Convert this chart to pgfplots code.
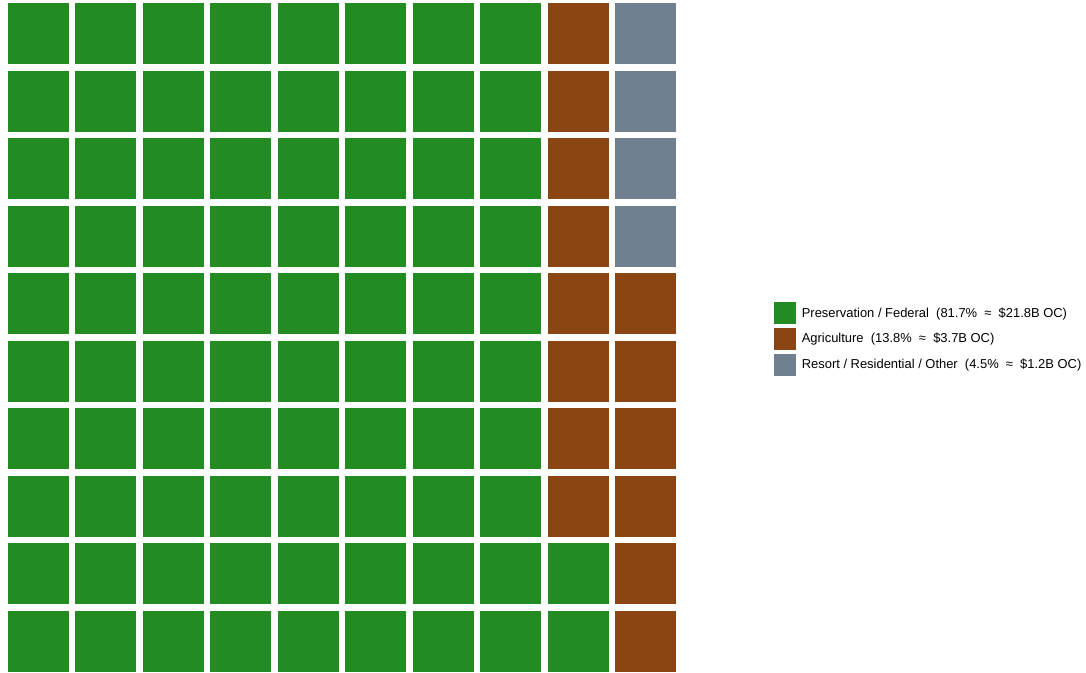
\documentclass[border=0pt]{standalone}
\usepackage{pgfplots}
\pgfplotsset{compat=1.18}
\usepackage{fontspec}
\setmainfont{Liberation Sans}
\definecolor{cgreen}{HTML}{228B22}
\definecolor{cbrown}{HTML}{8B4513}
\definecolor{cgray}{HTML}{708090}
\begin{document}
\begin{tikzpicture}
\begin{axis}[
  at={(3.19pt,-1.69pt)}, anchor=south west,
  scale only axis, width=506.25pt, height=506.25pt,
  xmin=-0.5, xmax=9.5, ymin=-0.5, ymax=9.5,
  hide axis, clip=false,
  legend style={at={(1.1404,0.4985)}, anchor=west, draw=none, fill=none,
    inner sep=0pt, font=\fontsize{9.7}{11}\selectfont,
    nodes={inner sep=0pt}, row sep=3pt, column sep=4.5pt},
  legend cell align=left,
]
% one tile per percent, 10 x 10 grid, y=9 is the top row
\addplot[only marks, mark=square*, mark size=22.5pt,
  mark options={draw=cgreen, fill=cgreen, line width=0pt},
  legend image code/.code={\fill[cgreen] (0pt,-7.875pt) rectangle (15.75pt,7.875pt);}]
coordinates {
(0,0)(0,1)(0,2)(0,3)(0,4)(0,5)(0,6)(0,7)(0,8)(0,9)
(1,0)(1,1)(1,2)(1,3)(1,4)(1,5)(1,6)(1,7)(1,8)(1,9)
(2,0)(2,1)(2,2)(2,3)(2,4)(2,5)(2,6)(2,7)(2,8)(2,9)
(3,0)(3,1)(3,2)(3,3)(3,4)(3,5)(3,6)(3,7)(3,8)(3,9)
(4,0)(4,1)(4,2)(4,3)(4,4)(4,5)(4,6)(4,7)(4,8)(4,9)
(5,0)(5,1)(5,2)(5,3)(5,4)(5,5)(5,6)(5,7)(5,8)(5,9)
(6,0)(6,1)(6,2)(6,3)(6,4)(6,5)(6,6)(6,7)(6,8)(6,9)
(7,0)(7,1)(7,2)(7,3)(7,4)(7,5)(7,6)(7,7)(7,8)(7,9)
(8,0)(8,1)
};
\addlegendentry{Preservation / Federal\ \ (81.7\%\ \ ≈\ \ \$21.8B OC)}
\addplot[only marks, mark=square*, mark size=22.5pt,
  mark options={draw=cbrown, fill=cbrown, line width=0pt},
  legend image code/.code={\fill[cbrown] (0pt,-7.875pt) rectangle (15.75pt,7.875pt);}]
coordinates {
(8,2)(8,3)(8,4)(8,5)(8,6)(8,7)(8,8)(8,9)
(9,0)(9,1)(9,2)(9,3)(9,4)(9,5)
};
\addlegendentry{Agriculture\ \ (13.8\%\ \ ≈\ \ \$3.7B OC)}
\addplot[only marks, mark=square*, mark size=22.5pt,
  mark options={draw=cgray, fill=cgray, line width=0pt},
  legend image code/.code={\fill[cgray] (0pt,-7.875pt) rectangle (15.75pt,7.875pt);}]
coordinates {
(9,6)(9,7)(9,8)(9,9)
};
\addlegendentry{Resort / Residential / Other\ \ (4.5\%\ \ ≈\ \ \$1.2B OC)}
\end{axis}
\pgfresetboundingbox
\path (0,0) rectangle (814.5pt,504.75pt);
\end{tikzpicture}
\end{document}
